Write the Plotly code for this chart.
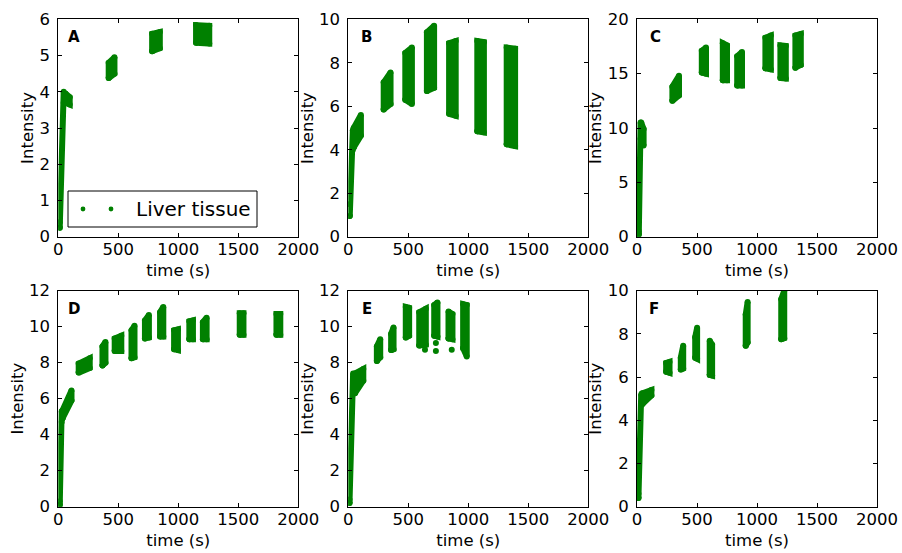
import plotly.graph_objects as go

GREEN = "#008000"
FONT = "DejaVu Sans"

# ---------------- data ----------------
# each cluster of points: time span [t0, t1], lower edge [lo0 -> lo1], upper edge [hi0 -> hi1]
panel_names = ["A", "B", "C", "D", "E", "F"]

A_t0 = [12, 60, 420, 782, 1148]
A_t1 = [45, 95, 468, 846, 1258]
A_lo0 = [0.25, 3.7, 4.38, 5.12, 5.35]
A_lo1 = [3.7, 3.65, 4.5, 5.2, 5.33]
A_hi0 = [0.4, 3.95, 4.8, 5.6, 5.84]
A_hi1 = [4.0, 3.85, 4.95, 5.65, 5.82]

B_t0 = [12, 45, 295, 475, 655, 840, 1075, 1320]
B_t1 = [38, 105, 352, 530, 715, 895, 1130, 1390]
B_lo0 = [0.95, 4.1, 5.85, 6.3, 6.7, 5.65, 4.85, 4.25]
B_lo1 = [4.0, 4.65, 6.1, 6.1, 6.85, 5.56, 4.8, 4.17]
B_hi0 = [1.5, 5.0, 7.1, 8.45, 9.4, 8.9, 9.0, 8.7]
B_hi1 = [4.9, 5.6, 7.55, 8.7, 9.7, 9.0, 8.95, 8.65]

C_t0 = [15, 35, 295, 540, 715, 835, 1070, 1195, 1320]
C_t1 = [30, 55, 350, 575, 750, 875, 1115, 1240, 1365]
C_lo0 = [0.2, 9.0, 12.5, 15.1, 14.4, 13.9, 15.5, 14.6, 15.55]
C_lo1 = [9.0, 8.4, 13.0, 15.0, 14.4, 13.9, 15.4, 14.55, 15.8]
C_hi0 = [0.5, 10.5, 13.8, 17.1, 17.8, 16.6, 18.3, 17.6, 18.5]
C_hi1 = [10.5, 9.9, 14.8, 17.4, 17.6, 17.0, 18.5, 17.55, 18.65]

D_t0 = [12, 35, 170, 368, 470, 610, 722, 848, 965, 1092, 1205, 1512, 1818]
D_t1 = [28, 110, 262, 393, 525, 635, 755, 875, 997, 1122, 1236, 1543, 1850]
D_lo0 = [0.1, 4.9, 7.45, 7.85, 8.65, 8.25, 9.35, 9.45, 8.75, 9.3, 9.3, 9.55, 9.55]
D_lo1 = [4.7, 5.9, 7.7, 8.0, 8.65, 8.3, 9.4, 9.45, 8.7, 9.3, 9.3, 9.55, 9.55]
D_hi0 = [0.3, 5.35, 7.95, 8.9, 9.35, 9.8, 10.35, 10.8, 9.8, 10.3, 10.25, 10.75, 10.7]
D_hi1 = [5.3, 6.45, 8.25, 9.15, 9.5, 10.05, 10.65, 11.1, 9.85, 10.35, 10.5, 10.75, 10.7]

E_t0 = [10, 55, 238, 357, 479, 591, 716, 835, 957]
E_t1 = [40, 125, 266, 377, 507, 646, 743, 868, 987]
E_lo0 = [0.2, 6.3, 8.1, 8.7, 9.4, 8.95, 9.5, 9.35, 8.8]
E_lo1 = [6.5, 7.0, 8.3, 8.75, 9.5, 9.0, 9.45, 9.3, 8.35]
E_hi0 = [0.4, 7.4, 8.9, 9.6, 11.1, 10.8, 11.2, 10.85, 11.25]
E_hi1 = [7.4, 7.65, 9.3, 9.95, 11.05, 11.0, 11.35, 10.7, 11.2]
E_out_t = [639, 730, 730, 862]
E_out_y = [8.72, 9.1, 8.65, 8.72]

F_t0 = [12, 45, 243, 365, 485, 606, 906, 1202]
F_t1 = [35, 120, 271, 385, 501, 626, 922, 1227]
F_lo0 = [0.4, 4.75, 6.25, 6.35, 6.9, 6.1, 7.45, 7.75]
F_lo1 = [4.7, 5.15, 6.2, 6.4, 6.85, 6.07, 7.6, 7.8]
F_hi0 = [0.6, 5.25, 6.65, 6.9, 7.85, 7.68, 8.9, 9.6]
F_hi1 = [5.2, 5.4, 6.7, 7.45, 8.28, 7.5, 9.48, 10.0]

x_ticks = [0, 500, 1000, 1500, 2000]
y_max = [6, 10, 20, 12, 12, 10]
y_step = [1, 2, 5, 2, 2, 2]

series = [
    (A_t0, A_t1, A_lo0, A_lo1, A_hi0, A_hi1),
    (B_t0, B_t1, B_lo0, B_lo1, B_hi0, B_hi1),
    (C_t0, C_t1, C_lo0, C_lo1, C_hi0, C_hi1),
    (D_t0, D_t1, D_lo0, D_lo1, D_hi0, D_hi1),
    (E_t0, E_t1, E_lo0, E_lo1, E_hi0, E_hi1),
    (F_t0, F_t1, F_lo0, F_lo1, F_hi0, F_hi1),
]

# ---------------- layout geometry (pixels) ----------------
W, H = 902, 553
col_left = [58.3, 348.3, 637.0]
col_w = 240.0
row_top = [19.3, 290.7]
row_h = [217.4, 216.0]
label_dx = [7.7, 11.0, 10.7, 7.7, 11.7, 10.0]
MW = 6  # apparent width of the point clouds' outline (px)

fig = go.Figure()

for i, (t0s, t1s, lo0s, lo1s, hi0s, hi1s) in enumerate(series):
    xs, ys = [], []
    for t0, t1, l0, l1, h0, h1 in zip(t0s, t1s, lo0s, lo1s, hi0s, hi1s):
        xs += [t0, t1, t1, t0, t0, None]
        ys += [l0, l1, h1, h0, l0, None]
    sfx = "" if i == 0 else str(i + 1)
    fig.add_trace(go.Scatter(
        x=xs, y=ys, mode="lines+markers", fill="toself", fillcolor=GREEN,
        line=dict(color=GREEN, width=MW), marker=dict(size=MW, color=GREEN),
        xaxis="x" + sfx, yaxis="y" + sfx, showlegend=False, hoverinfo="skip",
        name="Liver tissue",
    ))
    if panel_names[i] == "E":
        fig.add_trace(go.Scatter(
            x=E_out_t, y=E_out_y, mode="markers",
            marker=dict(size=6, color=GREEN),
            xaxis="x" + sfx, yaxis="y" + sfx, showlegend=False, hoverinfo="skip",
        ))

axis_common = dict(
    showline=True, linecolor="black", linewidth=1, mirror="ticks",
    ticks="inside", ticklen=4, tickcolor="black", tickwidth=1,
    showgrid=False, zeroline=False, automargin=False,
    tickfont=dict(family=FONT, size=16.5, color="black"),
)

layout = dict(
    width=W, height=H, autosize=False,
    margin=dict(l=0, r=0, t=0, b=0),
    paper_bgcolor="white", plot_bgcolor="white",
    font=dict(family=FONT, color="black"),
    showlegend=False,
)

annotations = []
for i in range(6):
    r, c = divmod(i, 3)
    sfx = "" if i == 0 else str(i + 1)
    x0 = col_left[c] / W
    x1 = (col_left[c] + col_w) / W
    y1 = 1 - row_top[r] / H
    y0 = 1 - (row_top[r] + row_h[r]) / H
    layout["xaxis" + sfx] = dict(
        axis_common, domain=[x0, x1], anchor="y" + sfx, range=[0, 2000],
        tickmode="array", tickvals=x_ticks, ticklabelstandoff=-3,
        title=dict(text="time (s)", font=dict(family=FONT, size=16.5, color="black"), standoff=6),
    )
    layout["yaxis" + sfx] = dict(
        axis_common, domain=[y0, y1], anchor="x" + sfx, range=[0, y_max[i]],
        tick0=0, dtick=y_step[i], ticklabelstandoff=4,
        title=dict(text="Intensity", font=dict(family=FONT, size=16.5, color="black"), standoff=1),
    )
    annotations.append(dict(
        text="<b>%s</b>" % panel_names[i], xref="x%s domain" % sfx, yref="y%s domain" % sfx,
        x=label_dx[i] / col_w, y=1 - 18 / row_h[r], xanchor="left", yanchor="middle",
        showarrow=False, font=dict(family=FONT, size=15, color="black"),
    ))

# legend drawn inside panel A (box, two sample dots, label)
lg_x0, lg_x1, lg_y0, lg_y1 = 68, 257, 191, 227
lg_cy = (lg_y0 + lg_y1) / 2
shapes = [dict(
    type="rect", xref="paper", yref="paper",
    x0=lg_x0 / W, x1=lg_x1 / W, y0=1 - lg_y1 / H, y1=1 - lg_y0 / H,
    line=dict(color="black", width=1), fillcolor="white", layer="above",
)]
for cx in (83, 111):
    shapes.append(dict(
        type="circle", xref="paper", yref="paper", xsizemode="pixel", ysizemode="pixel",
        xanchor=cx / W, yanchor=1 - lg_cy / H, x0=-2.4, x1=2.4, y0=-2.4, y1=2.4,
        fillcolor=GREEN, line=dict(color=GREEN, width=0), layer="above",
    ))
annotations.append(dict(
    text="Liver tissue", xref="paper", yref="paper", x=134 / W, y=1 - lg_cy / H,
    xanchor="left", yanchor="middle", showarrow=False,
    font=dict(family=FONT, size=20, color="black"),
))

layout["annotations"] = annotations
layout["shapes"] = shapes
fig.update_layout(**layout)

fig.write_html("out.html", config={"displayModeBar": False},
               post_script="document.body.style.margin='0';")
